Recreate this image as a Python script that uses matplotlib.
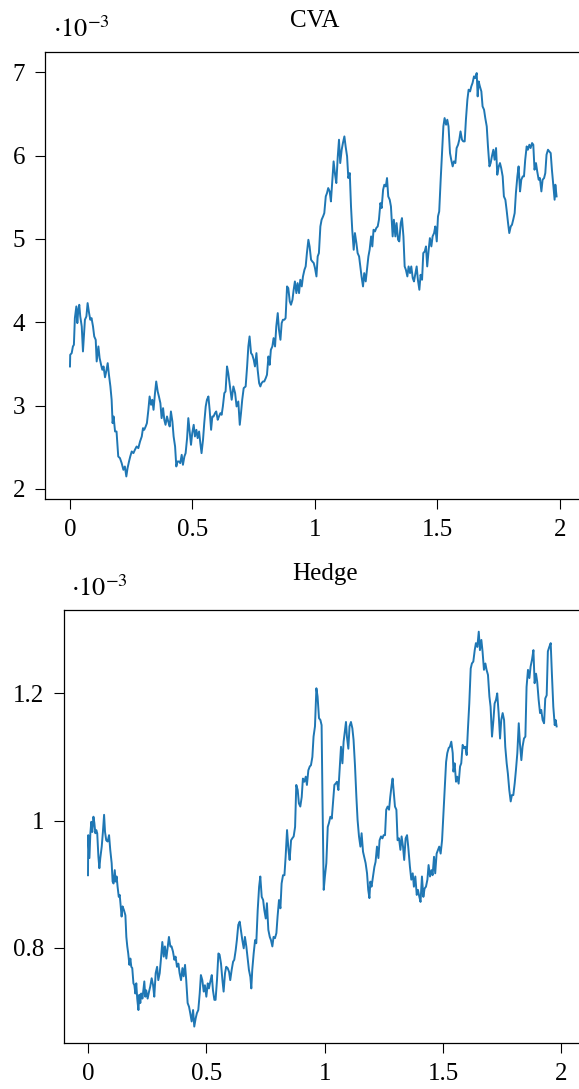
import matplotlib
matplotlib.use("Agg")
import matplotlib.pyplot as plt
from matplotlib.ticker import FormatStrFormatter

plt.rcParams['font.family'] = ['Liberation Serif', 'DejaVu Serif']
plt.rcParams['mathtext.fontset'] = 'stix'
plt.rcParams['font.size'] = 18

# CVA path, values in units of 1e-3
cva_t = [
    0.000, 0.001, 0.007, 0.012, 0.016, 0.020, 0.026, 0.030, 0.034, 0.038,
    0.042, 0.048, 0.053, 0.056, 0.061, 0.067, 0.072, 0.078, 0.083, 0.088,
    0.094, 0.099, 0.105, 0.109, 0.116, 0.121, 0.127, 0.132, 0.137, 0.143,
    0.148, 0.154, 0.159, 0.165, 0.170, 0.174, 0.178, 0.184, 0.190, 0.197,
    0.204, 0.211, 0.218, 0.224, 0.230, 0.235, 0.241, 0.246, 0.252, 0.259,
    0.265, 0.272, 0.279, 0.286, 0.293, 0.298, 0.303, 0.309, 0.314, 0.320,
    0.325, 0.331, 0.336, 0.341, 0.347, 0.352, 0.358, 0.363, 0.369, 0.374,
    0.380, 0.385, 0.390, 0.396, 0.401, 0.407, 0.412, 0.418, 0.423, 0.429,
    0.434, 0.439, 0.445, 0.450, 0.456, 0.461, 0.467, 0.472, 0.478, 0.483,
    0.488, 0.494, 0.499, 0.505, 0.510, 0.516, 0.521, 0.527, 0.532, 0.537,
    0.543, 0.548, 0.554, 0.559, 0.565, 0.570, 0.576, 0.581, 0.586, 0.592,
    0.597, 0.603, 0.608, 0.614, 0.619, 0.624, 0.630, 0.635, 0.641,
    0.646, 0.653, 0.660, 0.667, 0.674, 0.680, 0.687, 0.693, 0.698, 0.703,
    0.709, 0.717, 0.723, 0.728, 0.733, 0.739, 0.744, 0.750, 0.755, 0.761,
    0.766, 0.772, 0.777, 0.782, 0.788, 0.793, 0.799, 0.804, 0.810, 0.815,
    0.820, 0.826, 0.831, 0.837, 0.842, 0.848, 0.853, 0.859, 0.864, 0.869,
    0.875, 0.880, 0.886, 0.891, 0.897, 0.902, 0.908, 0.913, 0.918, 0.924,
    0.929, 0.935, 0.940, 0.946, 0.951, 0.957, 0.962, 0.967, 0.973, 0.978,
    0.984, 0.989, 0.995, 1.000, 1.006, 1.011, 1.016, 1.022, 1.027, 1.033,
    1.038, 1.044, 1.049, 1.054, 1.060, 1.065, 1.071, 1.076, 1.082, 1.087,
    1.093, 1.098, 1.103, 1.109, 1.114, 1.120, 1.125, 1.131, 1.136, 1.142,
    1.147, 1.152, 1.158, 1.163, 1.169, 1.174, 1.180, 1.185, 1.190, 1.196,
    1.201, 1.207, 1.212, 1.218, 1.223, 1.229, 1.234, 1.239, 1.245, 1.250,
    1.256, 1.261, 1.267, 1.272, 1.278, 1.283, 1.289, 1.294, 1.299, 1.305,
    1.310,
    1.317, 1.322, 1.328, 1.333, 1.339, 1.344, 1.350, 1.355, 1.361, 1.366,
    1.371, 1.377, 1.382, 1.388, 1.393, 1.399, 1.404, 1.410, 1.415, 1.420,
    1.426, 1.431, 1.437, 1.442, 1.448, 1.453, 1.458, 1.464, 1.469, 1.475,
    1.480, 1.486, 1.491, 1.497, 1.502, 1.507, 1.513, 1.518, 1.524, 1.529,
    1.535, 1.540, 1.545, 1.551, 1.556, 1.562, 1.567, 1.573, 1.578, 1.584,
    1.589, 1.594, 1.600, 1.605, 1.611, 1.616, 1.622, 1.627, 1.633, 1.638,
    1.643, 1.649, 1.654, 1.660, 1.664, 1.668, 1.673, 1.679, 1.684, 1.690,
    1.695, 1.701, 1.706, 1.712, 1.717, 1.722, 1.728, 1.733, 1.739, 1.744,
    1.750, 1.755, 1.760, 1.766, 1.771, 1.777, 1.782, 1.788, 1.793, 1.799,
    1.804, 1.809, 1.815, 1.820, 1.826, 1.831, 1.837, 1.842, 1.848, 1.853,
    1.858, 1.864, 1.869, 1.875, 1.880, 1.886, 1.891, 1.896, 1.902, 1.907,
    1.913, 1.918, 1.924, 1.929, 1.935, 1.940, 1.945, 1.951, 1.956, 1.962,
    1.967, 1.973, 1.978, 1.981, 1.986,
]
cva = [
    3.47, 3.61, 3.63, 3.71, 3.73, 4.05, 4.19, 3.99, 4.15, 4.21,
    4.07, 3.95, 3.65, 3.79, 4.03, 4.07, 4.23, 4.11, 4.03, 4.05,
    3.95, 3.83, 3.79, 3.53, 3.71, 3.57, 3.49, 3.43, 3.47, 3.34,
    3.41, 3.51, 3.37, 3.23, 3.07, 2.79, 2.87, 2.69, 2.69, 2.39,
    2.37, 2.31, 2.23, 2.27, 2.15, 2.25, 2.33, 2.39, 2.45, 2.43,
    2.47, 2.51, 2.49, 2.57, 2.63, 2.73, 2.71, 2.75, 2.79, 2.95,
    3.11, 3.01, 3.07, 2.95, 3.15, 3.29, 3.17, 3.11, 3.03, 2.85,
    2.97, 2.83, 2.77, 2.87, 2.81, 2.75, 2.93, 2.81, 2.63, 2.51,
    2.27, 2.33, 2.33, 2.31, 2.41, 2.29, 2.39, 2.43, 2.61, 2.85,
    2.71, 2.53, 2.67, 2.77, 2.63, 2.71, 2.61, 2.69, 2.55, 2.43,
    2.59, 2.79, 2.99, 3.07, 3.11, 2.95, 2.71, 2.87, 2.87, 2.91,
    2.93, 2.83, 2.87, 2.91, 2.89, 2.99, 3.15, 3.17, 3.47,
    3.39, 3.23, 3.07, 3.23, 3.15, 2.99, 3.05, 2.77, 2.91, 3.07,
    3.21, 3.23, 3.47, 3.71, 3.83, 3.63, 3.61, 3.55, 3.47, 3.63,
    3.43, 3.27, 3.23, 3.27, 3.29, 3.29, 3.33, 3.37, 3.59, 3.49,
    3.67, 3.71, 3.81, 3.71, 3.95, 4.11, 3.91, 3.79, 3.99, 4.03,
    4.03, 4.05, 4.43, 4.41, 4.25, 4.21, 4.27, 4.39, 4.49, 4.35,
    4.47, 4.35, 4.51, 4.43, 4.55, 4.63, 4.67, 4.83, 4.99, 4.91,
    4.75, 4.73, 4.71, 4.65, 4.55, 4.79, 4.83, 5.15, 5.23, 5.27,
    5.31, 5.51, 5.55, 5.61, 5.57, 5.45, 5.71, 5.93, 5.77, 5.67,
    5.99, 6.19, 5.91, 6.07, 6.15, 6.23, 6.11, 5.99, 5.73, 5.79,
    5.39, 5.11, 4.87, 5.07, 4.95, 4.83, 4.79, 4.67, 4.55, 4.43,
    4.59, 4.49, 4.63, 4.79, 4.87, 5.03, 4.91, 5.11, 5.09, 5.13,
    5.15, 5.23, 5.43, 5.37, 5.59, 5.65, 5.63, 5.73, 5.51, 5.47,
    5.39,
    5.03, 5.23, 5.03, 5.19, 4.99, 4.97, 5.19, 5.25, 5.03, 4.67,
    4.63, 4.55, 4.67, 4.59, 4.67, 4.53, 4.49, 4.59, 4.67, 4.51,
    4.39, 4.57, 4.51, 4.83, 4.85, 4.91, 4.67, 4.87, 5.01, 4.91,
    5.03, 5.07, 5.15, 4.97, 5.27, 5.33, 5.71, 5.99, 6.35, 6.45,
    6.37, 6.43, 6.35, 6.03, 5.95, 5.87, 5.93, 5.91, 6.09, 6.13,
    6.19, 6.29, 6.19, 6.17, 6.17, 6.43, 6.67, 6.79, 6.77, 6.83,
    6.87, 6.95, 6.93, 6.99, 6.71, 6.89, 6.83, 6.77, 6.59, 6.55,
    6.45, 6.35, 6.11, 5.87, 5.91, 5.99, 6.07, 5.95, 6.09, 5.77,
    5.87, 5.91, 5.85, 5.75, 5.51, 5.47, 5.35, 5.19, 5.07, 5.15,
    5.17, 5.23, 5.31, 5.55, 5.75, 5.87, 5.57, 5.71, 5.75, 5.75,
    5.95, 6.11, 6.07, 6.13, 6.09, 6.15, 6.13, 5.83, 5.91, 5.81,
    5.71, 5.73, 5.57, 5.71, 5.73, 5.79, 6.01, 6.07, 6.05, 6.03,
    5.83, 5.63, 5.47, 5.65, 5.51,
]

# hedge path, values in units of 1e-3
hedge_t = [
    0.000, 0.001, 0.006, 0.010, 0.014, 0.018, 0.023, 0.027, 0.031, 0.035,
    0.039, 0.044, 0.048, 0.052, 0.058, 0.063, 0.068, 0.072, 0.077, 0.083,
    0.089, 0.094, 0.100, 0.104, 0.108, 0.113, 0.117, 0.121, 0.125, 0.130,
    0.134, 0.138, 0.142, 0.146, 0.152, 0.158, 0.162, 0.166, 0.170, 0.175,
    0.179, 0.183, 0.187, 0.192, 0.196, 0.200, 0.204, 0.208, 0.213, 0.217,
    0.221, 0.225, 0.230, 0.234, 0.238, 0.242, 0.246, 0.252, 0.258, 0.263,
    0.269, 0.275, 0.280, 0.286, 0.292, 0.297, 0.303, 0.308, 0.314, 0.320,
    0.325, 0.331, 0.337, 0.342, 0.348, 0.353, 0.359, 0.365, 0.370, 0.376,
    0.382, 0.387, 0.393, 0.399, 0.404, 0.410, 0.415, 0.421, 0.427, 0.432,
    0.438, 0.444, 0.449, 0.455, 0.460, 0.466, 0.472, 0.477, 0.483, 0.489,
    0.494, 0.500, 0.506, 0.511, 0.517, 0.523, 0.528, 0.534, 0.539, 0.545,
    0.551, 0.556, 0.562, 0.568, 0.573, 0.579, 0.584, 0.590, 0.596, 0.601,
    0.607, 0.613, 0.618, 0.624, 0.629, 0.635, 0.641, 0.646, 0.652, 0.658,
    0.663, 0.669, 0.675, 0.680, 0.686, 0.690, 0.694, 0.700, 0.706, 0.711,
    0.717, 0.723, 0.728, 0.734, 0.740, 0.745, 0.751, 0.756, 0.762, 0.768,
    0.773, 0.779, 0.784, 0.790, 0.796, 0.801, 0.807, 0.813, 0.818, 0.824,
    0.830, 0.835, 0.841, 0.847, 0.852, 0.858, 0.863, 0.869, 0.875, 0.880,
    0.886, 0.891, 0.897, 0.903, 0.908, 0.914, 0.920, 0.925, 0.931, 0.937,
    0.942, 0.948, 0.953, 0.959, 0.965, 0.970, 0.976, 0.982, 0.987, 0.991,
    0.996, 1.001, 1.007, 1.013, 1.018, 1.024, 1.030, 1.035, 1.041, 1.046,
    1.052, 1.058, 1.063, 1.069, 1.075, 1.080, 1.086, 1.090, 1.094, 1.100,
    1.105, 1.111, 1.117, 1.122, 1.128, 1.134, 1.139, 1.145, 1.151, 1.156,
    1.162, 1.167, 1.173, 1.179, 1.184, 1.189, 1.193, 1.198, 1.204, 1.210,
    1.215, 1.221, 1.227, 1.232, 1.238, 1.244, 1.249, 1.255, 1.260, 1.266,
    1.272, 1.277, 1.283, 1.287, 1.291, 1.297, 1.303, 1.308, 1.314, 1.320,
    1.325, 1.331, 1.336, 1.342, 1.348, 1.353,
    1.360, 1.366, 1.372, 1.377, 1.383, 1.389, 1.394, 1.400, 1.405, 1.411,
    1.417, 1.422, 1.428, 1.434, 1.439, 1.445, 1.451, 1.456, 1.462, 1.467,
    1.473, 1.479, 1.484, 1.490, 1.496, 1.501, 1.507, 1.513, 1.518, 1.524,
    1.529, 1.535, 1.541, 1.544, 1.549, 1.555, 1.560, 1.566, 1.572, 1.577,
    1.583, 1.589, 1.594, 1.600, 1.605, 1.611, 1.617, 1.622, 1.628, 1.634,
    1.639, 1.645, 1.651, 1.656, 1.662, 1.667, 1.673, 1.679, 1.684, 1.690,
    1.696, 1.701, 1.707, 1.713, 1.718, 1.724, 1.729, 1.735, 1.741, 1.746,
    1.752, 1.758, 1.763, 1.769, 1.774, 1.780, 1.786, 1.791, 1.797, 1.803,
    1.808, 1.814, 1.820, 1.825, 1.831, 1.836, 1.842, 1.848, 1.853, 1.859,
    1.865, 1.870, 1.876, 1.882, 1.887, 1.893, 1.898, 1.904, 1.910, 1.915,
    1.921, 1.927, 1.932, 1.938, 1.943, 1.949, 1.955, 1.960, 1.966, 1.972,
    1.976, 1.980,
]
hedge = [
    0.914, 0.977, 0.941, 0.980, 0.998, 0.982, 1.006, 0.996, 0.980, 0.985,
    0.980, 0.943, 0.925, 0.941, 0.959, 0.982, 1.009, 0.982, 0.969, 0.967,
    0.977, 0.954, 0.933, 0.904, 0.901, 0.922, 0.904, 0.912, 0.896, 0.880,
    0.883, 0.865, 0.849, 0.865, 0.859, 0.851, 0.817, 0.802, 0.791, 0.773,
    0.783, 0.770, 0.768, 0.744, 0.741, 0.728, 0.744, 0.720, 0.702, 0.726,
    0.713, 0.728, 0.720, 0.733, 0.747, 0.723, 0.733, 0.720, 0.731, 0.739,
    0.752, 0.741, 0.723, 0.760, 0.770, 0.749, 0.760, 0.781, 0.809, 0.786,
    0.802, 0.783, 0.802, 0.817, 0.802, 0.802, 0.794, 0.781, 0.786, 0.770,
    0.775, 0.760, 0.749, 0.768, 0.755, 0.773, 0.749, 0.713, 0.707, 0.697,
    0.684, 0.702, 0.676, 0.689, 0.697, 0.702, 0.728, 0.757, 0.749, 0.731,
    0.741, 0.723, 0.744, 0.736, 0.747, 0.757, 0.733, 0.718, 0.718, 0.749,
    0.791, 0.789, 0.775, 0.749, 0.731, 0.760, 0.770, 0.768, 0.762, 0.749,
    0.765, 0.778, 0.781, 0.796, 0.812, 0.836, 0.841, 0.828, 0.812, 0.799,
    0.817, 0.802, 0.781, 0.765, 0.754, 0.736, 0.765, 0.791, 0.812, 0.807,
    0.859, 0.896, 0.912, 0.880, 0.875, 0.859, 0.846, 0.870, 0.828, 0.817,
    0.812, 0.802, 0.817, 0.815, 0.823, 0.849, 0.875, 0.862, 0.901, 0.914,
    0.914, 0.943, 0.985, 0.954, 0.938, 0.969, 0.972, 0.975, 0.990, 1.056,
    1.048, 1.027, 1.022, 1.037, 1.066, 1.061, 1.069, 1.056, 1.079, 1.085,
    1.087, 1.100, 1.132, 1.148, 1.208, 1.195, 1.161, 1.158, 1.150, 1.027,
    0.891, 0.912, 0.933, 0.990, 0.996, 1.006, 1.003, 1.027, 1.056, 1.058,
    1.061, 1.048, 1.079, 1.116, 1.090, 1.124, 1.142, 1.155, 1.132, 1.113,
    1.148, 1.155, 1.145, 1.127, 1.087, 1.037, 1.001, 0.975, 0.959, 0.980,
    0.951, 0.943, 0.933, 0.917, 0.891, 0.878, 0.904, 0.896, 0.912, 0.927,
    0.935, 0.959, 0.941, 0.969, 0.975, 0.972, 0.977, 0.977, 1.017, 1.022,
    1.017, 1.037, 1.056, 1.066, 1.048, 1.022, 1.017, 0.969, 0.972, 0.954,
    0.975, 0.959, 0.938, 0.972, 0.977, 0.959,
    0.928, 0.907, 0.917, 0.896, 0.912, 0.883, 0.891, 0.880, 0.872, 0.912,
    0.880, 0.893, 0.896, 0.907, 0.930, 0.912, 0.922, 0.914, 0.943, 0.917,
    0.948, 0.954, 0.959, 0.948, 0.969, 1.006, 1.048, 1.092, 1.106, 1.114,
    1.116, 1.124, 1.106, 1.077, 1.090, 1.061, 1.069, 1.058, 1.085, 1.090,
    1.119, 1.114, 1.116, 1.103, 1.142, 1.184, 1.239, 1.247, 1.250, 1.268,
    1.279, 1.273, 1.297, 1.268, 1.284, 1.266, 1.237, 1.247, 1.237, 1.229,
    1.195, 1.179, 1.132, 1.158, 1.184, 1.190, 1.200, 1.169, 1.129, 1.158,
    1.169, 1.158, 1.116, 1.090, 1.074, 1.048, 1.030, 1.040, 1.040, 1.059,
    1.079, 1.106, 1.153, 1.121, 1.095, 1.116, 1.129, 1.132, 1.210, 1.237,
    1.224, 1.242, 1.253, 1.268, 1.216, 1.231, 1.218, 1.190, 1.169, 1.174,
    1.158, 1.153, 1.192, 1.197, 1.266, 1.273, 1.279, 1.231, 1.179, 1.150,
    1.158, 1.148,
]

x_ticks = [0, 0.5, 1, 1.5, 2]
cva_ticks = [2, 3, 4, 5, 6, 7]
hedge_ticks = [0.8, 1.0, 1.2]

fig = plt.figure(figsize=(5.79, 10.89), dpi=100)
ax1 = fig.add_axes([0.0782, 0.5421, 0.9313, 0.4105])
ax2 = fig.add_axes([0.1111, 0.0425, 0.8993, 0.3973])

for ax in (ax1, ax2):
    ax.tick_params(direction='out', length=7.5, width=0.8, colors='black',
                   labelsize=18, pad=7)
    for sp in ax.spines.values():
        sp.set_linewidth(0.9)
    ax.set_xticks(x_ticks)
    ax.xaxis.set_major_formatter(FormatStrFormatter('%g'))
    ax.yaxis.set_major_formatter(FormatStrFormatter('%g'))

ax1.plot(cva_t, cva, color='#1f77b4', lw=1.4)
ax1.set_xlim(-0.1008, 2.1)
ax1.set_ylim(1.884, 7.247)
ax1.set_yticks(cva_ticks)
ax1.set_title('CVA', fontsize=18, pad=17.5)

ax2.plot(hedge_t, hedge, color='#1f77b4', lw=1.4)
ax2.set_xlim(-0.100, 2.1)
ax2.set_ylim(0.6506, 1.331)
ax2.set_yticks(hedge_ticks)
ax2.set_title('Hedge', fontsize=18, pad=21.5)

# common scale factor written above each panel
fig.text(53 / 579, 1 - 37 / 1089, r'$\cdot 10^{-3}$', fontsize=19, va='baseline')
fig.text(71 / 579, 1 - 596 / 1089, r'$\cdot 10^{-3}$', fontsize=19, va='baseline')

fig.savefig('out.png', dpi=100)
